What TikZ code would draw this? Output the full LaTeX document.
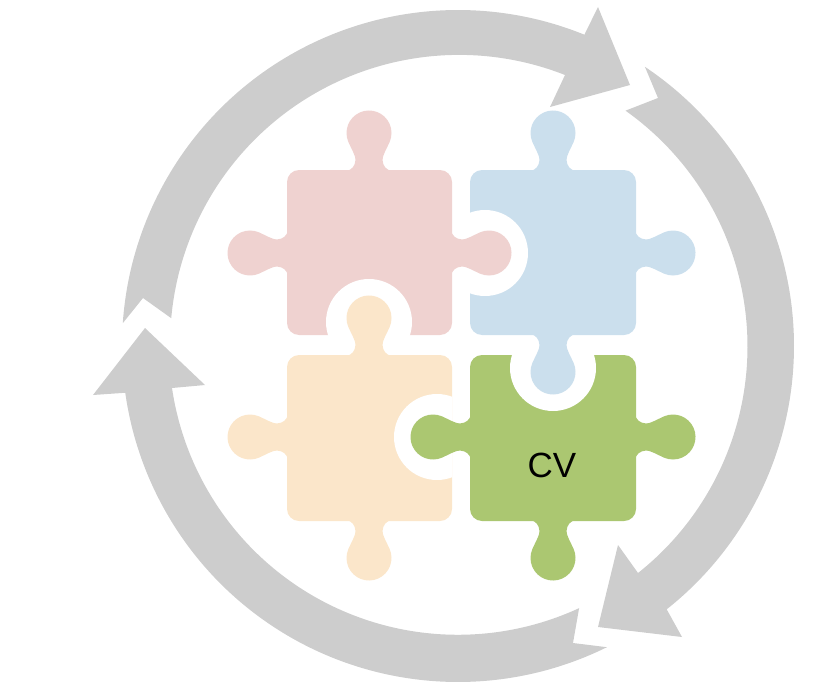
\documentclass[tikz,border=0pt]{standalone}
\usepackage{xcolor}
\usepackage{fontspec}
\setmainfont{Liberation Sans}
\usetikzlibrary{calc}

\definecolor{ringgray}{HTML}{CDCDCD}
\definecolor{piecered}{HTML}{EFD2D0}
\definecolor{pieceblue}{HTML}{CBDFED}
\definecolor{pieceorange}{HTML}{FBE6CA}
\definecolor{piecegreen}{HTML}{ABC771}

\tikzset{
  tab/.pic={
    \path[pic actions] (-23,1) .. controls (-17,0) and (-14,-4) .. (-13.5,-10)
      .. controls (-13.2,-14) and (-17.8,-21.5) .. (-20.55,-27.85)
      arc[start angle=156,end angle=384,radius=22.5]
      .. controls (17.8,-21.5) and (13.2,-14) .. (13.5,-10)
      .. controls (14,-4) and (17,0) .. (23,1) -- cycle;
  },
  socket/.pic={
    \begin{scope}
      \clip (-60,-18) rectangle (60,-90);
      \fill[white] (0,-33) circle[radius=43];
    \end{scope}
  }
}

\begin{document}
\begin{tikzpicture}[
    x=1pt, y=-1pt,
    ring/.style={fill=ringgray},
    body/.style={rounded corners=12pt},
    label/.style={font=\fontsize{35}{40}\selectfont, text=black, inner sep=0pt}
  ]
    \useasboundingbox (0,0) rectangle (834,687);
    \coordinate (hub) at (458,346);

    % arrows round the puzzle
    \fill[ring] ($(hub)+(183.9:336)$) arc[start angle=183.9,end angle=292.1,radius=336]
      -- (598,7) -- (630,85) -- (550,107) -- (565,75)
      arc[start angle=291.5,end angle=185.1,radius=289] -- (143,298) -- cycle;
    \fill[ring] ($(hub)+(303.8:336)$) arc[start angle=303.8,end angle=411.6,radius=336]
      -- (682,637) -- (598,627) -- (618,545) -- (638,573)
      arc[start angle=411.6,end angle=305.3,radius=289] -- (658,98) -- cycle;
    \fill[ring] ($(hub)+(63.7:336)$) arc[start angle=63.7,end angle=172,radius=336]
      -- (93,395) -- (145,328) -- (205,385) -- (172,388)
      arc[start angle=171.6,end angle=65.2,radius=289] -- (573,643) -- cycle;

    % pieces
    \fill[piecered, body] (287,170) rectangle (452,335);
    \fill[pieceblue, body] (470,170) rectangle (636,335);
    \fill[pieceorange, body] (287,355) rectangle (452,521);
    \fill[piecegreen, body] (470,355) rectangle (636,521);

    \pic[fill=piecered] at (369,170) {tab};
    \pic[fill=piecered, rotate=90] at (287,253) {tab};
    \pic[fill=pieceblue] at (553,170) {tab};
    \pic[fill=pieceblue, rotate=-90] at (636,253) {tab};
    \pic[fill=pieceorange, rotate=90] at (287,437) {tab};
    \pic[fill=pieceorange, rotate=180] at (369,521) {tab};
    \pic[fill=piecegreen, rotate=-90] at (636,437) {tab};
    \pic[fill=piecegreen, rotate=180] at (553,521) {tab};

    % interlocking tabs
    \pic[rotate=-90] at (452,253) {socket};
    \pic at (369,355) {socket};
    \pic[rotate=180] at (553,335) {socket};
    \pic[rotate=90] at (470,437) {socket};

    \pic[fill=piecered, rotate=-90] at (452,253) {tab};
    \pic[fill=pieceorange] at (369,355) {tab};
    \pic[fill=pieceblue, rotate=180] at (553,335) {tab};
    \pic[fill=piecegreen, rotate=90] at (470,437) {tab};

    \node[label] (cv) at (552,465) {CV};
  \end{tikzpicture}
\end{document}
